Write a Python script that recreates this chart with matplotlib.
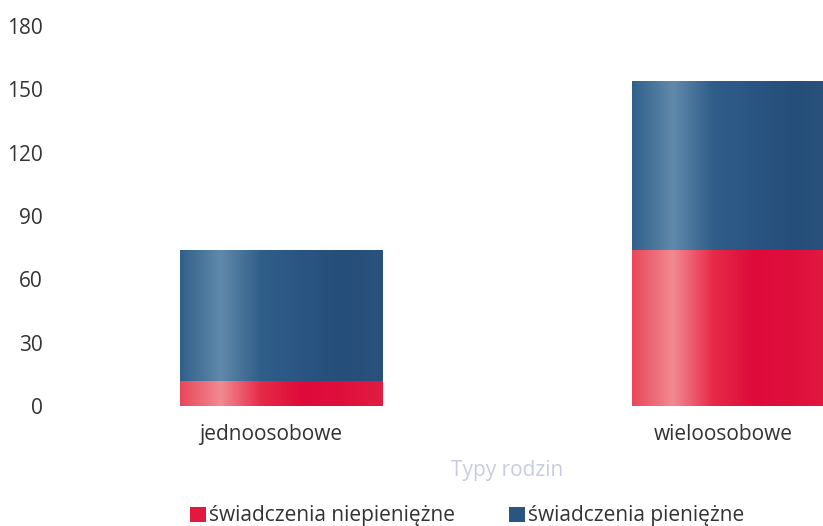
import numpy as np
import matplotlib.pyplot as plt
import matplotlib.transforms as mtransforms
from matplotlib.colors import LinearSegmentedColormap
from matplotlib.patches import Patch

plt.rcParams['font.family'] = ['Open Sans', 'DejaVu Sans']

# data
categories = ['jednoosobowe', 'wieloosobowe']
niepieniezne = [12, 74]
pieniezne = [62, 80]
series_names = ['świadczenia niepieniężne', 'świadczenia pieniężne']
yticks = [0, 30, 60, 90, 120, 150, 180]

red_cmap = LinearSegmentedColormap.from_list(
    'red', ['#e8475a', '#f28a92', '#e62a48', '#de0b3a', '#df0f3c', '#e21c42'])
blue_cmap = LinearSegmentedColormap.from_list(
    'blue', ['#30608a', '#6189ab', '#2f5e89', '#2a5582', '#264e7a', '#2a527c'])

fig = plt.figure(figsize=(8.23, 5.26), dpi=100)
W, H = 823, 526
ax = fig.add_axes([55 / W, (526 - 406) / H, 904 / W, 380 / H])

x = np.arange(len(categories))
b1 = ax.bar(x, niepieniezne, width=0.447, color='#e01040')
b2 = ax.bar(x, pieniezne, width=0.447, bottom=niepieniezne, color='#2a5582')

grad = np.linspace(0, 1, 256).reshape(1, -1)
for bars, cmap in ((b1, red_cmap), (b2, blue_cmap)):
    for rect in bars:
        x0, y0 = rect.get_x(), rect.get_y()
        w, h = rect.get_width(), rect.get_height()
        im = ax.imshow(grad, cmap=cmap, aspect='auto', extent=[x0, x0 + w, y0, y0 + h],
                       interpolation='bicubic', zorder=rect.get_zorder() + 0.1)
        im.set_clip_path(rect)

ax.set_xlim(-0.5, 1.5)
ax.set_ylim(0, 180)
ax.set_yticks(yticks)
ax.set_xticks(x)
ax.set_xticklabels(categories)
ax.tick_params(length=0, labelsize=15, colors='#333333')
ax.tick_params(axis='y', pad=9)
ax.tick_params(axis='x', pad=13)
# category labels sit a little left of the bar centres in the original
shift = mtransforms.ScaledTranslation(-10 / 100, 0, fig.dpi_scale_trans)
for lbl in ax.get_xticklabels():
    lbl.set_transform(lbl.get_transform() + shift)
for s in ax.spines.values():
    s.set_visible(False)

ax.set_xlabel('Typy rodzin', fontsize=15, color='#c8cce0', labelpad=11)

handles = [Patch(facecolor='#e2183f', edgecolor='none'),
           Patch(facecolor='#2a5582', edgecolor='none')]
fig.legend(handles, series_names, loc='center', bbox_to_anchor=(467 / W, 1 - 516 / H),
           ncol=2, frameon=False, fontsize=15, handlelength=0.75, handleheight=0.75,
           handletextpad=0.15, columnspacing=2.6, labelcolor='#333333')

fig.savefig('out.png', dpi=100)
